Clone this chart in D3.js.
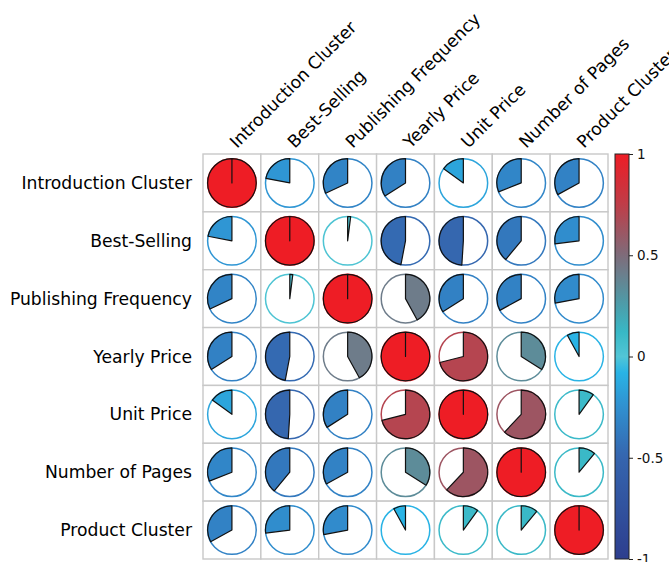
<!DOCTYPE html>
<html>
<head>
<meta charset="utf-8">
<script src="https://cdn.jsdelivr.net/npm/d3@7"></script>
<style>
  html, body { margin: 0; padding: 0; background: #fff; }
  svg { display: block; font-family: "DejaVu Sans", sans-serif; }
</style>
</head>
<body>
<svg id="chart" width="669" height="562"></svg>
<script>
// Variables of the correlation matrix
const variables = [
  "Introduction Cluster", "Best-Selling", "Publishing Frequency",
  "Yearly Price", "Unit Price", "Number of Pages", "Product Cluster"
];

// Correlation coefficients, one row per variable
const rowIntroduction = [ 1.00, -0.22, -0.32, -0.34, -0.15, -0.31, -0.33];
const rowBestSelling  = [-0.22,  1.00,  0.02, -0.47, -0.49, -0.39, -0.27];
const rowPublishing   = [-0.32,  0.02,  1.00,  0.42, -0.34, -0.33, -0.28];
const rowYearlyPrice  = [-0.34, -0.47,  0.42,  1.00,  0.71,  0.34, -0.08];
const rowUnitPrice    = [-0.15, -0.49, -0.34,  0.71,  1.00,  0.62,  0.10];
const rowPages        = [-0.31, -0.39, -0.33,  0.34,  0.62,  1.00,  0.11];
const rowProduct      = [-0.33, -0.27, -0.28, -0.08,  0.10,  0.11,  1.00];
const matrix = [rowIntroduction, rowBestSelling, rowPublishing, rowYearlyPrice,
                rowUnitPrice, rowPages, rowProduct];

// Colour bar ticks
const colorbarTicks = [-1, -0.5, 0, 0.5, 1];
const colorbarTickLabels = ["-1", "-0.5", "0", "0.5", "1"];

// Diverging colour map: deep blue -> sky blue -> cyan -> teal grey -> red
const colorStops = [-1, -0.5, -0.25, -0.08, 0, 0.12, 0.25, 0.5, 0.75, 1];
const colorValues = ["#2d3e8e", "#3565ae", "#3090d0", "#29b3e5", "#52c6d6",
                     "#38b8c6", "#4b9eab", "#7e6c7a", "#bf3d48", "#ee1d25"];

const svg = d3.select("#chart");

const grid = { left: 203, top: 154, size: 405 };

const x = d3.scaleBand().domain(variables)
  .range([grid.left, grid.left + grid.size]).padding(0);
const y = d3.scaleBand().domain(variables)
  .range([grid.top, grid.top + grid.size]).padding(0);

const color = d3.scaleLinear().domain(colorStops).range(colorValues)
  .interpolate(d3.interpolateRgb).clamp(true);

// value -> sweep angle (positive clockwise, negative counter-clockwise)
const sweep = d3.scaleLinear().domain([-1, 1]).range([-2 * Math.PI, 2 * Math.PI]);

const radius = x.bandwidth() * 0.42;

const cells = [];
matrix.forEach((row, i) => row.forEach((v, j) => {
  cells.push({ row: variables[i], col: variables[j], value: v });
}));

// grid cells
svg.append("g").selectAll("rect").data(cells).join("rect")
  .attr("x", d => x(d.col))
  .attr("y", d => y(d.row))
  .attr("width", x.bandwidth())
  .attr("height", y.bandwidth())
  .attr("fill", "#fff")
  .attr("stroke", "#c8c8c8")
  .attr("stroke-width", 1.4);

const glyphs = svg.append("g").selectAll("g").data(cells).join("g")
  .attr("transform", d => `translate(${x(d.col) + x.bandwidth() / 2},${y(d.row) + y.bandwidth() / 2})`);

// full circle outline in the value colour
glyphs.append("circle")
  .attr("r", radius)
  .attr("fill", "#fff")
  .attr("stroke", d => color(d.value))
  .attr("stroke-width", 1.5);

// filled wedge, starting at twelve o'clock
glyphs.append("path")
  .attr("d", d => {
    const a = sweep(d.value);
    const p = d3.path();
    p.moveTo(0, 0);
    p.lineTo(0, -radius);
    p.arc(0, 0, radius, -Math.PI / 2, -Math.PI / 2 + a, a < 0);
    p.closePath();
    return p.toString();
  })
  .attr("fill", d => color(d.value))
  .attr("stroke", "#111")
  .attr("stroke-width", 1.2)
  .attr("stroke-linejoin", "round");

// row labels
svg.append("g").selectAll("text").data(variables).join("text")
  .attr("x", grid.left - 11)
  .attr("y", d => y(d) + y.bandwidth() / 2)
  .attr("text-anchor", "end")
  .attr("dominant-baseline", "central")
  .attr("font-size", 17.2)
  .attr("fill", "#000")
  .text(d => d);

// column labels, rotated
svg.append("g").selectAll("text").data(variables).join("text")
  .attr("transform", d => `translate(${x(d) + x.bandwidth() / 2 + 5},${grid.top - 5}) rotate(-45)`)
  .attr("text-anchor", "start")
  .attr("font-size", 17.2)
  .attr("fill", "#000")
  .text(d => d);

// colour bar
const cb = { x: 615, width: 14 };
const cbScale = d3.scaleLinear().domain([-1, 1]).range([grid.top + grid.size, grid.top]);

const defs = svg.append("defs");
const grad = defs.append("linearGradient")
  .attr("id", "cbGrad")
  .attr("x1", 0).attr("y1", 1).attr("x2", 0).attr("y2", 0);
grad.selectAll("stop").data(d3.range(0, 1.0001, 0.02)).join("stop")
  .attr("offset", t => t)
  .attr("stop-color", t => color(-1 + 2 * t));

svg.append("rect")
  .attr("x", cb.x)
  .attr("y", cbScale(1))
  .attr("width", cb.width)
  .attr("height", cbScale(-1) - cbScale(1))
  .attr("fill", "url(#cbGrad)")
  .attr("stroke", "#222")
  .attr("stroke-width", 1);

const cbAxis = d3.axisRight(cbScale)
  .tickValues(colorbarTicks)
  .tickSize(4)
  .tickPadding(4)
  .tickFormat((d, i) => colorbarTickLabels[i]);

const cbG = svg.append("g")
  .attr("transform", `translate(${cb.x + cb.width},0)`)
  .call(cbAxis);
cbG.select(".domain").remove();
cbG.selectAll(".tick line").attr("stroke", "#222");
cbG.selectAll(".tick text")
  .attr("font-size", 13.5)
  .attr("font-family", "DejaVu Sans, sans-serif")
  .attr("fill", "#111");
</script>
</body>
</html>
